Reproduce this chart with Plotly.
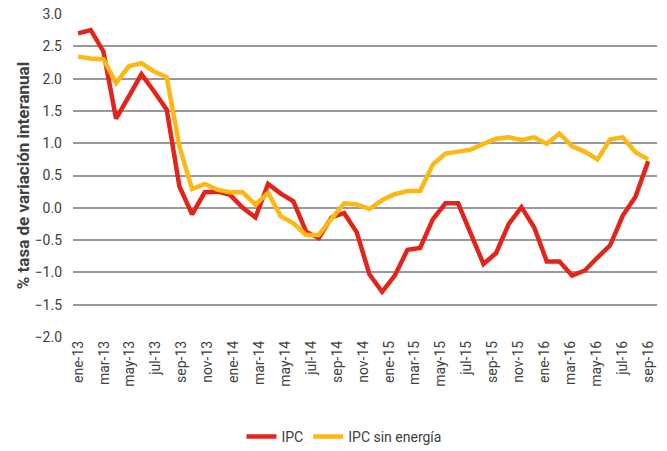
import plotly.graph_objects as go

months = ["ene", "feb", "mar", "abr", "may", "jun", "jul", "ago", "sep", "oct", "nov", "dic"]
periods = [f"{m}-{y}" for y in ("13", "14", "15", "16") for m in months][:46]

ipc = [2.7, 2.75, 2.42, 1.38, 1.72, 2.07, 1.8, 1.52, 0.33, -0.1,
       0.24, 0.25, 0.2, 0.0, -0.15, 0.37, 0.22, 0.1, -0.37, -0.47,
       -0.15, -0.08, -0.38, -1.03, -1.3, -1.05, -0.65, -0.62, -0.18, 0.07,
       0.07, -0.4, -0.87, -0.7, -0.25, 0.01, -0.3, -0.83, -0.83, -1.05,
       -0.97, -0.77, -0.58, -0.12, 0.17, 0.72]

ipc_sin_energia = [2.34, 2.31, 2.3, 1.93, 2.19, 2.24, 2.11, 2.02, 0.95, 0.29,
                   0.37, 0.28, 0.24, 0.24, 0.05, 0.23, -0.13, -0.24, -0.42, -0.42,
                   -0.17, 0.07, 0.05, -0.02, 0.12, 0.21, 0.26, 0.26, 0.67, 0.84,
                   0.87, 0.9, 0.99, 1.07, 1.09, 1.05, 1.09, 0.99, 1.15, 0.95,
                   0.87, 0.75, 1.06, 1.09, 0.86, 0.75]

tick_labels = periods[0:45:2]

FONT = "Roboto"
RED = "#E3241B"
YELLOW = "#FDB813"
TEXT = "#404040"

x = list(range(len(periods)))

fig = go.Figure()
fig.add_trace(go.Scatter(
    x=x, y=ipc, mode="lines", name="IPC",
    line=dict(color=RED, width=4.5),
))
fig.add_trace(go.Scatter(
    x=x, y=ipc_sin_energia, mode="lines", name="IPC sin energía",
    line=dict(color=YELLOW, width=4.5),
))

# the category labels sit on a slightly wider spacing than the points
label_step = 45 / 44
fig.update_xaxes(
    range=[-0.4, 45.7],
    tickmode="array",
    tickvals=[i * label_step for i in range(0, 45, 2)],
    ticktext=tick_labels,
    tickangle=-90,
    tickfont=dict(family=FONT, size=14, color=TEXT),
    showgrid=False,
    zeroline=False,
    showline=False,
    ticks="",
    automargin=False,
)
fig.update_yaxes(
    range=[-2.0, 3.0],
    dtick=0.5,
    tickformat=".1f",
    tickfont=dict(family=FONT, size=14, color=TEXT),
    ticklabelstandoff=10,
    gridcolor="#999999",
    gridwidth=1.5,
    zeroline=False,
    showline=False,
    ticks="",
    automargin=False,
    title=dict(text="<b>% tasa de variación interanual</b>",
               font=dict(family=FONT, size=17, color=TEXT), standoff=0),
)

fig.update_layout(
    width=667,
    height=451,
    margin=dict(l=73, r=10, t=14, b=114),
    plot_bgcolor="white",
    paper_bgcolor="white",
    font=dict(family=FONT, size=14, color=TEXT),
    legend=dict(
        orientation="h",
        x=0.464,
        xanchor="center",
        yref="container",
        y=0.031,
        yanchor="middle",
        font=dict(family=FONT, size=14, color=TEXT),
        itemwidth=30,
    ),
)

fig.write_html("out.html", config={"displayModeBar": False})

# drop the browser's default body margin so the figure sits at the page corner
with open("out.html", encoding="utf-8") as f:
    html = f.read()
html = html.replace("<head>", "<head><style>body{margin:0;}</style>", 1)
with open("out.html", "w", encoding="utf-8") as f:
    f.write(html)
